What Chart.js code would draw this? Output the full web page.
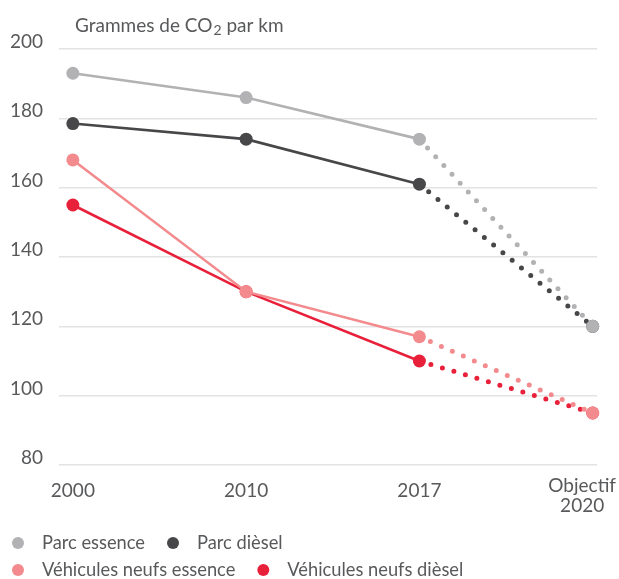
<!DOCTYPE html>
<html>
<head>
<meta charset="utf-8">
<script src="https://cdn.jsdelivr.net/npm/chart.js@4.4.1/dist/chart.umd.min.js"></script>
<style>
  html, body { margin: 0; padding: 0; background: #fff; }
</style>
</head>
<body>
<canvas id="co2Chart" width="619" height="579"></canvas>
<script>
// --- données ---
const years = ['2000', '2010', '2017', ['Objectif', '2020']];
const parcEssence = [193, 186, 174, 120];
const parcDiesel = [178.5, 174, 161, 120];
const neufsEssence = [168, 130, 117, 95];
const neufsDiesel = [155, 130, 110, 95];
const seriesNames = ['Parc essence', 'Parc dièsel', 'Véhicules neufs essence', 'Véhicules neufs dièsel'];
const seriesColors = ['#b2b2b4', '#47474a', '#f38a8d', '#e8203a'];
const yMin = 80, yMax = 200, yStep = 20;

const TEXT = '#58595b';
const FONT = 'Lato';

// le dernier segment (2017 -> objectif 2020) est en pointillés
const isTarget = c => c.p0DataIndex === 2;

function makeSet(i, values) {
  return {
    label: seriesNames[i],
    data: values.map((v, k) => ({ x: k, y: v })),
    borderColor: seriesColors[i],
    backgroundColor: seriesColors[i],
    pointBackgroundColor: seriesColors[i],
    pointBorderWidth: 0,
    pointRadius: 6.5,
    borderWidth: 2.6,
    tension: 0,
    clip: false,
    segment: {
      borderDash: c => isTarget(c) ? [0, 12] : undefined,
      borderWidth: c => isTarget(c) ? 5 : undefined,
      borderCapStyle: c => isTarget(c) ? 'round' : undefined
    }
  };
}

// titre, libellés des années et légende sur deux lignes
const extrasPlugin = {
  id: 'extras',
  afterDraw(chart) {
    const { ctx, chartArea, scales } = chart;
    ctx.save();
    ctx.fillStyle = TEXT;

    // titre "Grammes de CO2 par km"
    ctx.textAlign = 'left';
    ctx.textBaseline = 'alphabetic';
    let tx = 75;
    ctx.font = '19px ' + FONT;
    ctx.fillText('Grammes de CO', tx, 32);
    tx += ctx.measureText('Grammes de CO').width + 1;
    ctx.font = '14px ' + FONT;
    ctx.fillText('2', tx, 35);
    tx += ctx.measureText('2').width;
    ctx.font = '19px ' + FONT;
    ctx.fillText(' par km', tx, 32);

    // années
    ctx.font = '19px ' + FONT;
    ctx.textAlign = 'center';
    years.forEach((lab, i) => {
      let px = scales.x.getPixelForValue(i);
      if (Array.isArray(lab)) {
        const w = Math.max(...lab.map(s => ctx.measureText(s).width));
        px = Math.min(px, chart.width - 3 - w / 2);
        lab.forEach((s, j) => ctx.fillText(s, px, chartArea.bottom + 27 + j * 20));
      } else {
        ctx.fillText(lab, px, chartArea.bottom + 32);
      }
    });

    // légende
    const rows = [[0, 1], [2, 3]];
    ctx.font = '18.3px ' + FONT;
    ctx.textAlign = 'left';
    ctx.textBaseline = 'middle';
    rows.forEach((row, r) => {
      const cy = 543 + r * 27;
      let cx = 18;
      row.forEach(i => {
        ctx.fillStyle = seriesColors[i];
        ctx.beginPath();
        ctx.arc(cx, cy, 6, 0, Math.PI * 2);
        ctx.fill();
        ctx.fillStyle = TEXT;
        ctx.fillText(seriesNames[i], cx + 24, cy);
        cx += 24 + ctx.measureText(seriesNames[i]).width + 28;
      });
    });
    ctx.restore();
  }
};

new Chart(document.getElementById('co2Chart'), {
  type: 'line',
  data: {
    datasets: [
      makeSet(0, parcEssence),
      makeSet(1, parcDiesel),
      makeSet(2, neufsEssence),
      makeSet(3, neufsDiesel)
    ]
  },
  options: {
    responsive: false,
    animation: false,
    layout: { padding: { left: 0, right: 22, top: 49, bottom: 114 } },
    plugins: {
      legend: { display: false },
      tooltip: { enabled: false }
    },
    scales: {
      x: {
        type: 'linear',
        display: false,
        min: -0.08,
        max: 3.025
      },
      y: {
        min: yMin,
        max: yMax,
        afterFit(scale) { scale.width = 59; },
        border: { display: false },
        grid: { color: '#e3e3e3', lineWidth: 1.5, drawTicks: false },
        ticks: {
          stepSize: yStep,
          padding: 16,
          labelOffset: -7,
          color: TEXT,
          font: { family: FONT, size: 19 }
        }
      }
    }
  },
  plugins: [extrasPlugin]
});
</script>
</body>
</html>
